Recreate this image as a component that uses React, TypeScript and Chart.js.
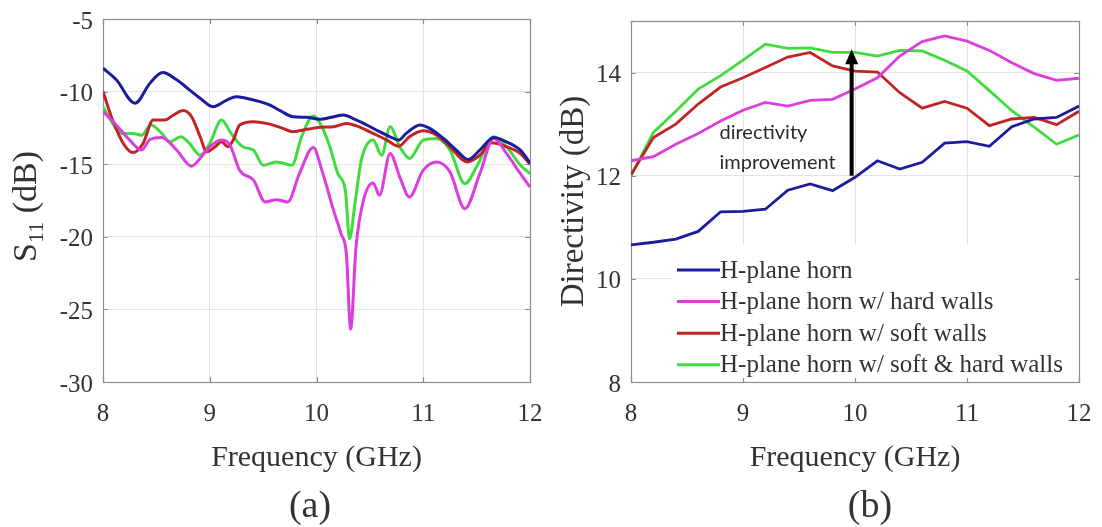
import React, { useEffect, useRef } from "react";
import { Chart, registerables } from "chart.js";
Chart.register(...registerables);

// ---------- Panel (a): S11 ----------
const freqTickValuesA = [8, 9, 10, 11, 12];
const s11TickValues = [-30, -25, -20, -15, -10, -5];

const fBlueA = [8.0, 8.125, 8.3, 8.44, 8.56, 8.69, 8.81, 8.91, 9.03, 9.16, 9.25, 9.34, 9.47, 9.56, 9.66, 9.78, 9.91, 10.03, 10.16, 10.25, 10.34, 10.47, 10.59, 10.69, 10.77, 10.84, 10.97, 11.06, 11.19, 11.31, 11.42, 11.53, 11.66, 11.78, 11.91, 12.0];
const s11Blue = [-8.39, -9.19, -10.8, -9.42, -8.69, -9.19, -9.88, -10.46, -11.04, -10.58, -10.35, -10.46, -10.69, -10.92, -11.31, -11.73, -11.77, -11.91, -11.73, -11.61, -11.84, -12.3, -12.76, -13.11, -13.34, -12.88, -12.3, -12.53, -13.23, -14.03, -14.68, -14.03, -13.16, -13.46, -14.03, -14.91];

const fMagentaA = [8.0, 8.125, 8.25, 8.36, 8.44, 8.55, 8.69, 8.83, 8.91, 9.0, 9.11, 9.19, 9.28, 9.41, 9.52, 9.625, 9.73, 9.84, 9.97, 10.05, 10.16, 10.23, 10.28, 10.32, 10.37, 10.44, 10.53, 10.59, 10.69, 10.78, 10.87, 11.0, 11.125, 11.25, 11.39, 11.53, 11.66, 11.78, 11.91, 12.0];
const s11Magenta = [-11.38, -12.3, -13.34, -14.03, -13.3, -13.16, -14.03, -15.14, -14.6, -13.8, -13.34, -13.69, -15.41, -16.1, -17.6, -17.44, -17.6, -15.65, -13.85, -15.41, -18.18, -19.79, -21.18, -26.36, -20.71, -17.49, -16.29, -17.14, -14.26, -15.88, -17.26, -15.41, -14.84, -15.53, -18.06, -15.65, -13.23, -14.26, -15.65, -16.57];

const fRedA = [8.0, 8.09, 8.19, 8.28, 8.375, 8.47, 8.58, 8.66, 8.75, 8.83, 8.91, 8.97, 9.05, 9.11, 9.17, 9.22, 9.28, 9.41, 9.53, 9.66, 9.78, 9.91, 10.03, 10.16, 10.28, 10.41, 10.53, 10.66, 10.77, 10.87, 11.0, 11.125, 11.25, 11.41, 11.53, 11.64, 11.78, 11.91, 12.0];
const s11Red = [-10.0, -11.96, -13.57, -14.2, -13.57, -11.96, -11.96, -11.61, -11.31, -11.73, -13.11, -14.15, -13.8, -13.46, -13.8, -13.34, -12.3, -12.07, -12.19, -12.46, -12.76, -12.6, -12.46, -12.42, -12.19, -12.46, -12.88, -13.34, -13.76, -13.11, -12.7, -13.0, -13.8, -14.84, -14.38, -13.53, -13.8, -14.26, -15.0];

const fGreenA = [8.0, 8.09, 8.17, 8.28, 8.36, 8.45, 8.55, 8.625, 8.73, 8.81, 8.91, 9.0, 9.11, 9.2, 9.31, 9.41, 9.5, 9.625, 9.77, 9.86, 9.97, 10.05, 10.125, 10.2, 10.27, 10.31, 10.36, 10.42, 10.53, 10.61, 10.69, 10.78, 10.87, 11.0, 11.125, 11.25, 11.39, 11.5, 11.66, 11.78, 11.91, 12.0];
const s11Green = [-11.04, -12.19, -12.88, -12.88, -13.0, -12.3, -12.88, -13.46, -13.11, -13.57, -14.38, -13.57, -11.96, -12.88, -13.8, -14.03, -15.07, -14.84, -15.07, -13.11, -11.68, -12.42, -13.8, -15.65, -16.8, -20.14, -17.73, -14.72, -13.34, -14.38, -12.42, -13.8, -14.6, -13.34, -13.23, -14.03, -16.34, -15.18, -13.11, -13.8, -15.07, -15.65];

// ---------- Panel (b): Directivity ----------
const freqB = [8.0, 8.2, 8.4, 8.6, 8.8, 9.0, 9.2, 9.4, 9.6, 9.8, 10.0, 10.2, 10.4, 10.6, 10.8, 11.0, 11.2, 11.4, 11.6, 11.8, 12.0];
const dirBlue = [10.66, 10.71, 10.77, 10.92, 11.3, 11.31, 11.35, 11.72, 11.84, 11.71, 11.97, 12.29, 12.13, 12.26, 12.63, 12.66, 12.57, 12.95, 13.1, 13.13, 13.35];
const dirMagenta = [12.29, 12.37, 12.61, 12.82, 13.06, 13.27, 13.42, 13.35, 13.46, 13.48, 13.68, 13.9, 14.32, 14.6, 14.71, 14.61, 14.43, 14.19, 13.98, 13.85, 13.89];
const dirRed = [12.02, 12.74, 13.0, 13.39, 13.72, 13.9, 14.1, 14.3, 14.39, 14.13, 14.03, 14.01, 13.61, 13.31, 13.44, 13.31, 12.97, 13.1, 13.13, 12.99, 13.25];
const dirGreen = [12.0, 12.84, 13.25, 13.68, 13.94, 14.24, 14.55, 14.47, 14.48, 14.39, 14.39, 14.32, 14.43, 14.42, 14.24, 14.03, 13.65, 13.26, 12.94, 12.61, 12.79];
const dirTickValues = [8, 10, 12, 14];

const seriesLabels = [
  "H-plane horn",
  "H-plane horn w/ hard walls",
  "H-plane horn w/ soft walls",
  "H-plane horn w/ soft & hard walls",
];
const seriesColors = ["#1c1c9e", "#dd3ddd", "#c02424", "#3fdc3f"];

// annotation (data units)
const arrowFreq = 9.97;
const arrowFrom = 12.0;
const arrowTo = 14.45;
const noteLines = ["directivity", "improvement"];
const noteFreq = 8.79;
const noteValues = [12.83, 12.25];

const SERIF = "'Liberation Serif', 'Times New Roman', serif";
const TEXT = "#333333";
const GRID = "#e4e4e4";
const BOX = "#8c8c8c";

const toXY = (xs: number[], ys: number[]) => xs.map((x, i) => ({ x, y: ys[i] }));

const boxPlugin = {
  id: "matlabBox",
  beforeDatasetsDraw(chart: any) {
    const { ctx, chartArea: a, scales } = chart;
    ctx.save();
    ctx.strokeStyle = BOX;
    ctx.lineWidth = 1.2;
    const tl = 5;
    ctx.beginPath();
    scales.y.ticks.forEach((t: any) => {
      const y = Math.round(scales.y.getPixelForValue(t.value)) + 0.5;
      ctx.moveTo(a.left, y); ctx.lineTo(a.left + tl, y);
      ctx.moveTo(a.right, y); ctx.lineTo(a.right - tl, y);
    });
    scales.x.ticks.forEach((t: any) => {
      const x = Math.round(scales.x.getPixelForValue(t.value)) + 0.5;
      ctx.moveTo(x, a.bottom); ctx.lineTo(x, a.bottom - tl);
      ctx.moveTo(x, a.top); ctx.lineTo(x, a.top + tl);
    });
    ctx.stroke();
    ctx.strokeRect(Math.round(a.left) + 0.5, Math.round(a.top) + 0.5, Math.round(a.right - a.left), Math.round(a.bottom - a.top));
    ctx.restore();
  },
};

const s11TitlePlugin = {
  id: "s11Title",
  afterDraw(chart: any) {
    const { ctx, chartArea: a } = chart;
    ctx.save();
    ctx.fillStyle = TEXT;
    const big = `34px ${SERIF}`;
    const small = `22px ${SERIF}`;
    ctx.font = big;
    const wS = ctx.measureText("S").width;
    const wRest = ctx.measureText(" (dB)").width;
    ctx.font = small;
    const wSub = ctx.measureText("11").width;
    const total = wS + wSub + wRest;
    ctx.translate(36, (a.top + a.bottom) / 2 + 6);
    ctx.rotate(-Math.PI / 2);
    ctx.textBaseline = "alphabetic";
    ctx.textAlign = "left";
    let x = -total / 2;
    ctx.font = big;
    ctx.fillText("S", x, 0);
    x += wS;
    ctx.font = small;
    ctx.fillText("11", x, 7);
    x += wSub;
    ctx.font = big;
    ctx.fillText(" (dB)", x, 0);
    ctx.restore();
  },
};

const legendBox = { left: 42, right: 4, top: 224, bottom: 4 };

const legendPlugin = {
  id: "insideLegend",
  beforeDatasetsDraw(chart: any) {
    const { ctx, chartArea: a } = chart;
    ctx.save();
    ctx.fillStyle = "#ffffff";
    ctx.fillRect(a.left + legendBox.left, a.top + legendBox.top, a.right - a.left - legendBox.left - legendBox.right, a.bottom - a.top - legendBox.top - legendBox.bottom);
    ctx.restore();
  },
  afterDraw(chart: any) {
    const { ctx, chartArea: a } = chart;
    ctx.save();
    ctx.font = `25px ${SERIF}`;
    ctx.textBaseline = "middle";
    ctx.textAlign = "left";
    const x0 = a.left + 46;
    const x1 = a.left + 89;
    const y0 = a.top + 249;
    const step = 31.6;
    chart.data.datasets.forEach((ds: any, i: number) => {
      const y = y0 + i * step;
      ctx.strokeStyle = ds.borderColor;
      ctx.lineWidth = 3;
      ctx.beginPath();
      ctx.moveTo(x0, y);
      ctx.lineTo(x1, y);
      ctx.stroke();
      ctx.fillStyle = TEXT;
      ctx.fillText(ds.label, x1, y + 1);
    });
    ctx.restore();
  },
};

const arrowPlugin = {
  id: "arrowNote",
  afterDatasetsDraw(chart: any) {
    const { ctx, scales } = chart;
    const x = scales.x.getPixelForValue(arrowFreq);
    const yA = scales.y.getPixelForValue(arrowFrom);
    const yB = scales.y.getPixelForValue(arrowTo);
    ctx.save();
    ctx.strokeStyle = "#000";
    ctx.fillStyle = "#000";
    ctx.lineWidth = 4;
    ctx.beginPath();
    ctx.moveTo(x, yA);
    ctx.lineTo(x, yB + 12);
    ctx.stroke();
    ctx.beginPath();
    ctx.moveTo(x, yB);
    ctx.lineTo(x - 6.5, yB + 15);
    ctx.lineTo(x + 6.5, yB + 15);
    ctx.closePath();
    ctx.fill();
    ctx.font = "20px Lato, 'Open Sans', sans-serif";
    ctx.fillStyle = "#2a2a2a";
    ctx.textBaseline = "middle";
    ctx.textAlign = "left";
    const nx = scales.x.getPixelForValue(noteFreq);
    noteLines.forEach((t, i) => {
      ctx.fillText(t, nx, scales.y.getPixelForValue(noteValues[i]));
    });
    ctx.restore();
  },
};

function makeOptions(cfg: {
  yMin: number; yMax: number; yTicks: number[]; yWidth: number;
  pad: { top: number; right: number }; yTitle?: string;
}) {
  return {
    responsive: false,
    animation: false as const,
    events: [],
    layout: { padding: { left: 0, top: cfg.pad.top, right: cfg.pad.right, bottom: 0 } },
    plugins: { legend: { display: false }, tooltip: { enabled: false }, title: { display: false } },
    elements: { point: { radius: 0 } },
    scales: {
      x: {
        type: "linear" as const,
        min: 8,
        max: 12,
        afterBuildTicks: (s: any) => { s.ticks = freqTickValuesA.map((v) => ({ value: v })); },
        afterFit: (s: any) => { s.height = 145; s.paddingLeft = 0; s.paddingRight = 0; },
        ticks: { font: { family: SERIF, size: 25 }, color: TEXT, padding: 17, maxRotation: 0, callback: (v: any) => String(v) },
        grid: { color: GRID, drawTicks: false, lineWidth: 1 },
        border: { display: false },
        title: { display: true, text: "Frequency (GHz)", font: { family: SERIF, size: 30 }, color: TEXT, padding: { top: 0, bottom: 51 } },
      },
      y: {
        type: "linear" as const,
        min: cfg.yMin,
        max: cfg.yMax,
        afterBuildTicks: (s: any) => { s.ticks = cfg.yTicks.map((v) => ({ value: v })); },
        afterFit: (s: any) => { s.width = cfg.yWidth; s.paddingTop = 0; s.paddingBottom = 0; },
        ticks: { font: { family: SERIF, size: 25 }, color: TEXT, padding: 10, labelOffset: 3, callback: (v: any) => String(v) },
        grid: { color: GRID, drawTicks: false, lineWidth: 1 },
        border: { display: false },
        title: cfg.yTitle
          ? { display: true, text: cfg.yTitle, font: { family: SERIF, size: 33 }, color: TEXT, padding: { top: 4, bottom: 0 } }
          : { display: false },
      },
    },
  };
}

function PanelA() {
  const ref = useRef<HTMLCanvasElement>(null);
  useEffect(() => {
    const pairs = [
      toXY(fBlueA, s11Blue),
      toXY(fMagentaA, s11Magenta),
      toXY(fRedA, s11Red),
      toXY(fGreenA, s11Green),
    ];
    const chart = new Chart(ref.current!, {
      type: "line",
      data: {
        datasets: pairs.map((d, i) => ({
          label: seriesLabels[i],
          data: d,
          borderColor: seriesColors[i],
          borderWidth: 3,
          fill: false,
          cubicInterpolationMode: "monotone" as const,
        })),
      },
      options: makeOptions({ yMin: -30, yMax: -5, yTicks: s11TickValues, yWidth: 103, pad: { top: 19, right: 21 } }) as any,
      plugins: [boxPlugin, s11TitlePlugin],
    });
    return () => chart.destroy();
  }, []);
  return <canvas ref={ref} width={551} height={527} style={{ position: "absolute", left: 0, top: 0 }} />;
}

function PanelB() {
  const ref = useRef<HTMLCanvasElement>(null);
  useEffect(() => {
    const ys = [dirBlue, dirMagenta, dirRed, dirGreen];
    const chart = new Chart(ref.current!, {
      type: "line",
      data: {
        datasets: ys.map((v, i) => ({
          label: seriesLabels[i],
          data: toXY(freqB, v),
          borderColor: seriesColors[i],
          borderWidth: 2.8,
          fill: false,
          tension: 0,
        })),
      },
      options: makeOptions({ yMin: 8, yMax: 15, yTicks: dirTickValues, yWidth: 80, pad: { top: 21, right: 23 }, yTitle: "Directivity (dB)" }) as any,
      plugins: [boxPlugin, legendPlugin, arrowPlugin],
    });
    return () => chart.destroy();
  }, []);
  return <canvas ref={ref} width={551} height={527} style={{ position: "absolute", left: 551, top: 0 }} />;
}

const capStyle: React.CSSProperties = {
  position: "absolute",
  top: 504,
  transform: "translate(-50%, -50%)",
  fontFamily: SERIF,
  fontSize: 38,
  color: TEXT,
  lineHeight: 1,
  whiteSpace: "nowrap",
};

export default function App() {
  return (
    <div style={{ position: "absolute", left: 0, top: 0, width: 1102, height: 527, background: "#fff", overflow: "hidden" }}>
      <PanelA />
      <PanelB />
      <div style={{ ...capStyle, left: 310 }}>(a)</div>
      <div style={{ ...capStyle, left: 870 }}>(b)</div>
    </div>
  );
}
